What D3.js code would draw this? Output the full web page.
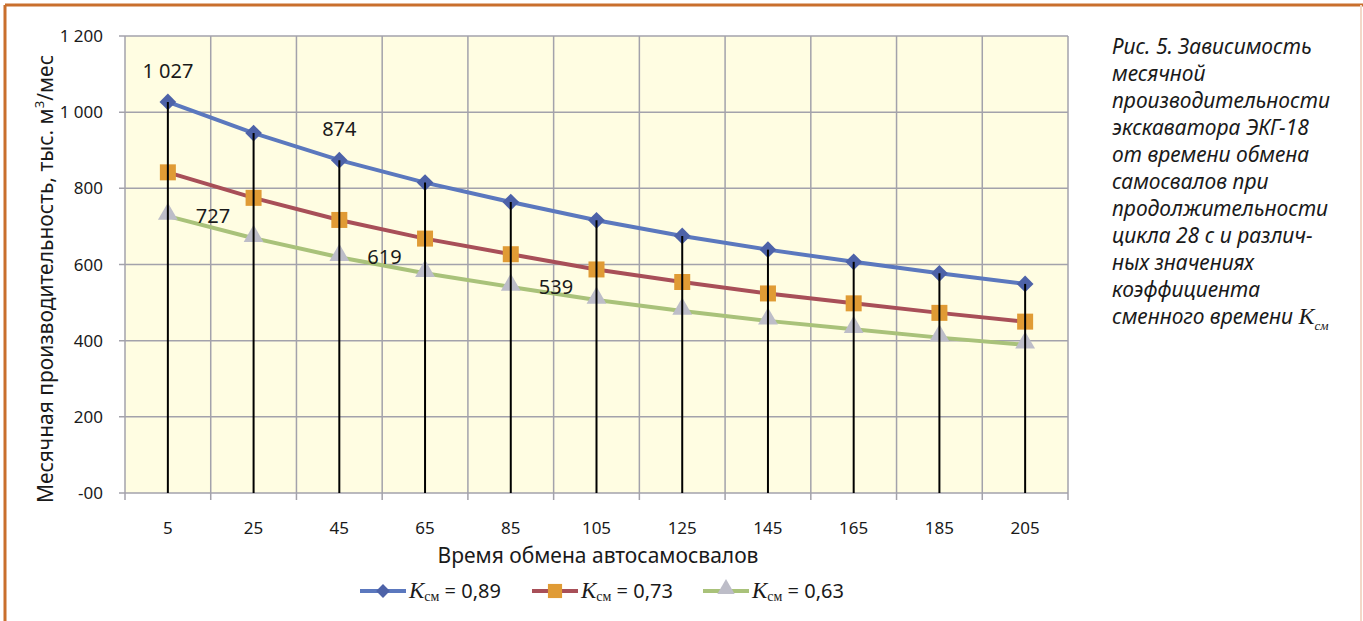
<!DOCTYPE html>
<html>
<head>
<meta charset="utf-8">
<script src="https://cdn.jsdelivr.net/npm/d3@7"></script>
<style>
  body { margin: 0; background: #fff; }
  text { font-family: "Noto Sans", "Open Sans", sans-serif; fill: #1a1a1a; }
</style>
</head>
<body>
<script>
const w = 1363;
const h = 621;

// data
const times = [5, 25, 45, 65, 85, 105, 125, 145, 165, 185, 205];
const k089 = [1027, 945, 874, 815, 764, 716, 675, 639, 607, 577, 549];
const k073 = [842, 775, 717, 668, 627, 587, 554, 524, 498, 473, 450];
const k063 = [727, 669, 619, 577, 541, 507, 478, 452, 430, 408, 389];
const yTicks = [0, 200, 400, 600, 800, 1000, 1200];
const yTickText = ["-00", "200", "400", "600", "800", "1 000", "1 200"];
const seriesNames = ["0,89", "0,73", "0,63"];
// labelled points: [series index, category index, text]
const pointLabels = [[0, 0, "1 027"], [0, 2, "874"], [2, 0, "727"], [2, 2, "619"], [2, 4, "539"]];
const caption = ["Рис. 5. Зависимость", "месячной", "производительности", "экскаватора ЭКГ-18",
  "от времени обмена", "самосвалов при", "продолжительности", "цикла 28 с и различ-",
  "ных значениях", "коэффициента", "сменного времени "];

const series = [
  {vals: k089, line: "#5b78be", mark: "#4d62a8", shape: d3.symbolSquare, rot: 45, size: 140, lsize: 95},
  {vals: k073, line: "#a84f58", mark: "#e09b35", shape: d3.symbolSquare, rot: 0, size: 256, lsize: 200},
  {vals: k063, line: "#a9c27a", mark: "#bdbdc8", shape: d3.symbolTriangle, rot: 0, size: 170, lsize: 130}
];

const svg = d3.select("body").append("svg").attr("width", w).attr("height", h);

// frame
svg.append("line").attr("x1", 5).attr("x2", w).attr("y1", 5).attr("y2", 5)
   .attr("stroke", "#c96f2d").attr("stroke-width", 3);
svg.append("line").attr("x1", 5).attr("x2", 5).attr("y1", 5).attr("y2", h)
   .attr("stroke", "#c96f2d").attr("stroke-width", 3);
svg.append("line").attr("x1", 1361).attr("x2", 1361).attr("y1", 5).attr("y2", h)
   .attr("stroke", "#f3d8c8").attr("stroke-width", 2);

const pLeft = 125, pRight = 1068, pTop = 36, pBottom = 493;

const x = d3.scaleBand().domain(times).range([pLeft, pRight]);
const y = d3.scaleLinear().domain([0, 1200]).range([pBottom, pTop]);

svg.append("rect").attr("x", pLeft).attr("y", pTop)
   .attr("width", pRight - pLeft).attr("height", pBottom - pTop).attr("fill", "#fffde2");

// grid
svg.selectAll(".hg").data(yTicks).enter().append("line")
   .attr("x1", pLeft - 6).attr("x2", pRight).attr("y1", d => y(d)).attr("y2", d => y(d))
   .attr("stroke", "#a3a2ab").attr("stroke-width", 1.5);
const bounds = times.map(t => x(t)).concat([pRight]);
svg.selectAll(".vg").data(bounds).enter().append("line")
   .attr("x1", d => d).attr("x2", d => d).attr("y1", pTop).attr("y2", pBottom + 7)
   .attr("stroke", "#a3a2ab").attr("stroke-width", 1.5);

// y tick labels
svg.selectAll(".yt").data(yTicks).enter().append("text")
   .attr("x", 103).attr("y", d => y(d) + 6).attr("text-anchor", "end")
   .attr("font-size", 17).text((d, i) => yTickText[i]);

// x tick labels
svg.selectAll(".xt").data(times).enter().append("text")
   .attr("x", d => x(d) + x.bandwidth() / 2).attr("y", 534).attr("text-anchor", "middle")
   .attr("font-size", 17).text(d => d);

// axis titles
svg.append("text").attr("x", 598).attr("y", 563).attr("text-anchor", "middle")
   .attr("font-size", 21).text("Время обмена автосамосвалов");
const yt = svg.append("text").attr("transform", "translate(53,279) rotate(-90)")
   .attr("text-anchor", "middle").attr("font-size", 21);
yt.append("tspan").text("Месячная производительность, тыс. м");
yt.append("tspan").attr("font-size", 13).attr("dy", -9).text("3");
yt.append("tspan").attr("dy", 9).text("/мес");

const cx = d => x(d) + x.bandwidth() / 2;

// lines
const line = d3.line().x((d, i) => cx(times[i])).y(d => y(d));
series.forEach(s => {
  svg.append("path").datum(s.vals).attr("d", line)
     .attr("fill", "none").attr("stroke", s.line).attr("stroke-width", 4);
});

// markers
series.forEach((s, si) => {
  svg.selectAll(".m" + si).data(s.vals).enter().append("path")
     .attr("d", d3.symbol().type(s.shape).size(s.size))
     .attr("transform", (d, i) => `translate(${cx(times[i])},${y(d) - (si === 2 ? 2 : 0)}) rotate(${s.rot})`)
     .attr("fill", s.mark);
});

// drop lines
svg.selectAll(".drop").data(k089).enter().append("line")
   .attr("x1", (d, i) => cx(times[i])).attr("x2", (d, i) => cx(times[i]))
   .attr("y1", d => y(d)).attr("y2", pBottom)
   .attr("stroke", "#000").attr("stroke-width", 2);

// data labels
svg.selectAll(".pl").data(pointLabels).enter().append("text")
   .attr("x", d => d[0] === 0 ? cx(times[d[1]]) : cx(times[d[1]]) + 28)
   .attr("y", d => d[0] === 0 ? y(series[d[0]].vals[d[1]]) - 24 : y(series[d[0]].vals[d[1]]) + 7)
   .attr("text-anchor", d => d[0] === 0 ? "middle" : "start")
   .attr("font-size", 20).text(d => d[2]);

// legend
const legX = [360, 532, 703];
series.forEach((s, i) => {
  const g = svg.append("g").attr("transform", `translate(${legX[i]},591)`);
  g.append("line").attr("x1", 0).attr("x2", 46).attr("stroke", s.line).attr("stroke-width", 4);
  g.append("path").attr("d", d3.symbol().type(s.shape).size(s.lsize))
   .attr("transform", `translate(23,${i === 2 ? -2 : 0}) rotate(${s.rot})`).attr("fill", s.mark);
  const t = g.append("text").attr("x", 49).attr("y", 7).attr("font-size", 20);
  t.append("tspan").attr("font-family", "Liberation Serif").attr("font-style", "italic")
   .attr("font-size", 23).text("K");
  t.append("tspan").attr("font-family", "Liberation Serif").attr("font-size", 14)
   .attr("dy", 3).text("см");
  t.append("tspan").attr("dy", -3).text(" = " + seriesNames[i]);
});

// caption
const cap = svg.append("text").attr("font-size", 21).attr("font-style", "italic");
caption.forEach((c, i) => {
  cap.append("tspan").attr("x", 1112).attr("y", 54 + i * 27).text(c);
});
cap.append("tspan").attr("font-family", "Liberation Serif").attr("font-size", 24).text("K");
cap.append("tspan").attr("font-family", "Liberation Serif").attr("font-size", 13)
   .attr("dy", 6).text("см");
</script>
</body>
</html>
